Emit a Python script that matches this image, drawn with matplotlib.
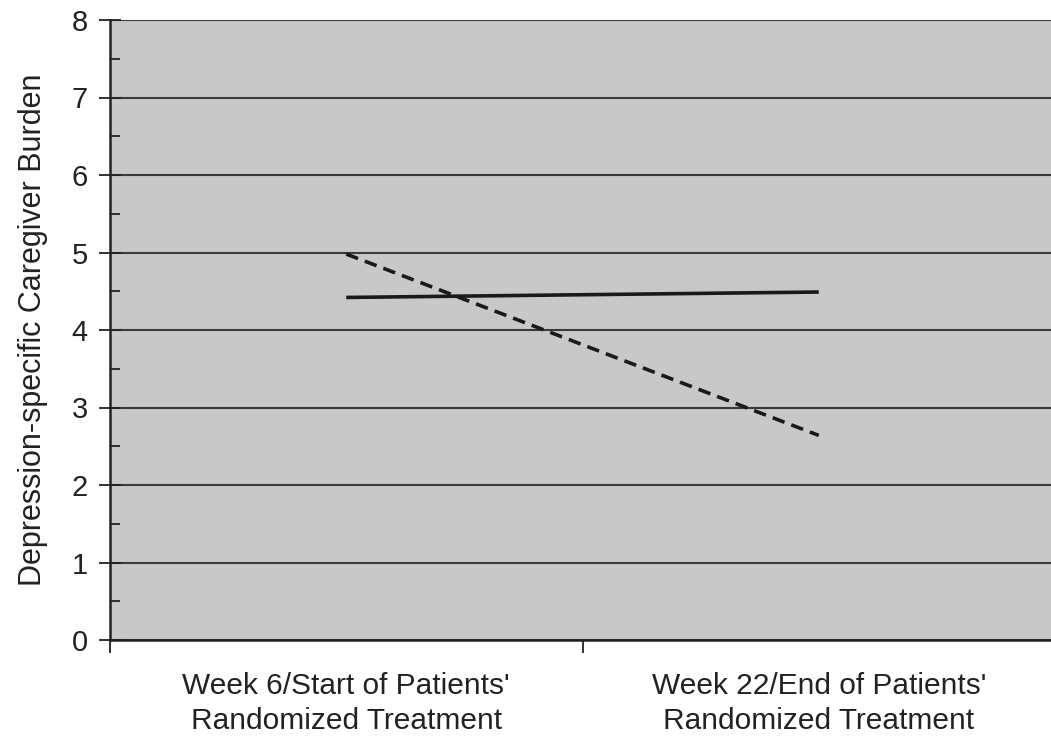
import matplotlib
matplotlib.use("Agg")
import matplotlib.pyplot as plt
from matplotlib.ticker import MultipleLocator, FixedLocator

plt.rcParams['font.family'] = ['Liberation Sans', 'DejaVu Sans']

categories = ["Week 6/Start of Patients'\nRandomized Treatment",
              "Week 22/End of Patients'\nRandomized Treatment"]
solid_series = [4.42, 4.49]
dashed_series = [4.98, 2.64]
y_ticks = [0, 1, 2, 3, 4, 5, 6, 7, 8]

fig = plt.figure(figsize=(10.51, 7.36), dpi=100)
ax = fig.add_axes([110/1051, 96/736, 945/1051, 620/736])
ax.set_facecolor('#c8c8c8')

x = [0, 1]
ax.plot(x, solid_series, color='#1a1a1a', lw=2.6, solid_capstyle='butt', zorder=3)
ax.plot(x, dashed_series, color='#1a1a1a', lw=2.6, linestyle=(0, (3.5, 2.0)), zorder=3)

ax.set_xlim(-0.5, 1.5)
ax.set_ylim(0, 8)
ax.yaxis.set_major_locator(FixedLocator(y_ticks))
ax.yaxis.set_minor_locator(MultipleLocator(0.5))
ax.xaxis.set_major_locator(FixedLocator([-0.5, 0.5, 1.5]))
ax.set_xticklabels(['', '', ''])
ax.set_xticks(x, minor=True)
ax.set_xticklabels(categories, minor=True, fontsize=21.5, color='#222222', linespacing=1.3)
ax.tick_params(axis='x', which='minor', length=0, pad=23)
ax.tick_params(axis='x', which='major', direction='out', length=9, width=1.3, color='#222222')
ax.tick_params(axis='y', which='major', direction='inout', length=16, width=1.3,
               color='#222222', labelsize=21, labelcolor='#222222', pad=8)
ax.tick_params(axis='y', which='minor', direction='in', length=7, width=1.3, color='#222222')

ax.grid(axis='y', which='major', color='#3a3a3a', lw=1.5)
ax.set_axisbelow(True)

ax.spines['right'].set_visible(False)
ax.spines['top'].set_visible(False)
ax.spines['left'].set_color('#222222')
ax.spines['left'].set_linewidth(1.8)
ax.spines['bottom'].set_color('#222222')
ax.spines['bottom'].set_linewidth(1.8)

ax.set_ylabel('Depression-specific Caregiver Burden', fontsize=22, color='#222222', labelpad=17)

fig.savefig('out.png', dpi=100)
